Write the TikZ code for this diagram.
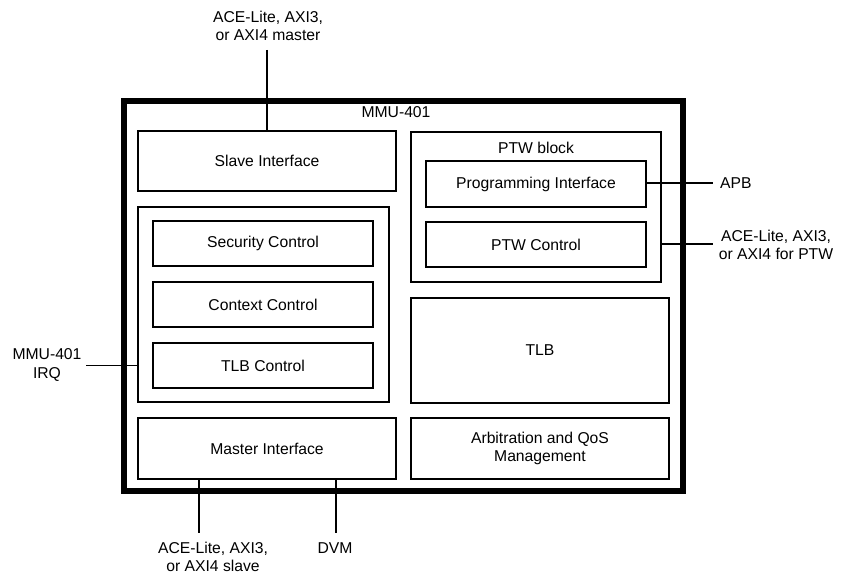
\documentclass[tikz,border=0pt]{standalone}
\usepackage{fontspec}
\setmainfont{Liberation Sans}
\begin{document}
\begin{tikzpicture}[x=1pt,y=-1pt,
  box/.style={draw,line width=1.9pt,rectangle,inner sep=0pt,font=\fontsize{15.7}{18.5}\selectfont,align=center},
  outerbox/.style={draw,line width=5.5pt,rectangle,inner sep=0pt},
  lbl/.style={font=\fontsize{15.7}{18.5}\selectfont,align=center,inner sep=0pt},
  wire/.style={line width=1.9pt}]
\useasboundingbox (0,0) rectangle (848,575);
\node[outerbox,minimum width=559pt,minimum height=390pt] (outer) at (403.5,296) {};
\node[lbl] (mmu) at (396,112) {MMU-401};
\node[box,minimum width=258pt,minimum height=60pt] (slave) at (267,161) {Slave Interface};
\node[box,minimum width=250pt,minimum height=150pt] (ptw) at (536,207) {};
\node[lbl] (ptwlbl) at (536,148) {PTW block};
\node[box,minimum width=220pt,minimum height=46pt] (prog) at (536,184) {Programming Interface};
\node[box,minimum width=220pt,minimum height=45pt] (ptwctl) at (536,244.5) {PTW Control};
\node[box,minimum width=251pt,minimum height=195pt] (grp) at (263.5,304.5) {};
\node[box,minimum width=220pt,minimum height=45pt] (sec) at (263,243.5) {Security Control};
\node[box,minimum width=220pt,minimum height=45pt] (ctx) at (263,304.5) {Context Control};
\node[box,minimum width=220pt,minimum height=45pt] (tlbc) at (263,365.5) {TLB Control};
\node[box,minimum width=258pt,minimum height=105pt] (tlb) at (540,350.5) {TLB};
\node[box,minimum width=258pt,minimum height=61pt] (master) at (267,448.5) {Master Interface};
\node[box,minimum width=258pt,minimum height=61pt] (arb) at (540,448.5) {Arbitration and QoS\\Management};
% external labels
\node[lbl] (toplbl) at (268,26) {ACE-Lite, AXI3,\\or AXI4 master};
\node[lbl,anchor=west] (apb) at (720,183) {APB};
\node[lbl] (ptwbus) at (776,245) {ACE-Lite, AXI3,\\or AXI4 for PTW};
\node[lbl] (irq) at (47,365) {MMU-401\\IRQ};
\node[lbl] (slvlbl) at (213,557) {ACE-Lite, AXI3,\\or AXI4 slave};
\node[lbl] (dvm) at (335,548) {DVM};
% wire ends
\coordinate (topend) at (267,50);
\coordinate (apbend) at (713,183);
\coordinate (ptwend) at (713,244);
\coordinate (irqend) at (86,365.5);
\coordinate (slvend) at (199,533);
\coordinate (dvmend) at (336,533);
\draw[wire] (topend) -- (slave.north);
\draw[wire] (prog.east |- apbend) -- (apbend);
\draw[wire] (ptw.east |- ptwend) -- (ptwend);
\draw[wire] (irqend) -- (grp.west |- irqend);
\draw[wire] (master.south -| slvend) -- (slvend);
\draw[wire] (master.south -| dvmend) -- (dvmend);
\end{tikzpicture}
\end{document}
